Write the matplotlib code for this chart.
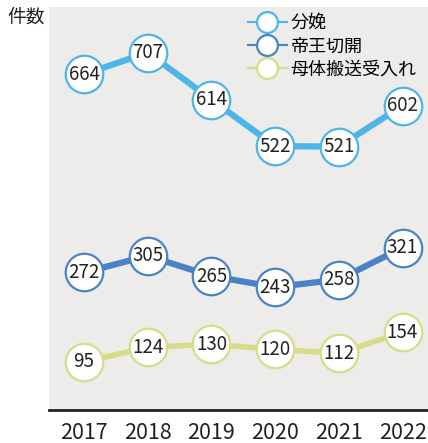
import matplotlib.pyplot as plt

plt.rcParams['font.family'] = ['Noto Sans CJK JP', 'DejaVu Sans']

years = [2017, 2018, 2019, 2020, 2021, 2022]
bunben = [664, 707, 614, 522, 521, 602]
teiou = [272, 305, 265, 243, 258, 321]
botai = [95, 124, 130, 120, 112, 154]

labels = ["分娩", "帝王切開", "母体搬送受入れ"]
colors = ["#4db5e8", "#4a82c6", "#d5dd88"]

fig = plt.figure(figsize=(4.28, 4.43), dpi=100)
ax = fig.add_axes([0.1145, 0.0745, 0.8855, 0.9095])
ax.set_facecolor("#edeceb")

handles = []
for vals, c, lab, lw in zip([bunben, teiou, botai], colors, labels, [4.5, 4.5, 4.0]):
    ax.plot(years, vals, color=c, lw=lw, zorder=2)
    ax.scatter(years, vals, s=27**2, facecolor="white", edgecolor=c, linewidth=1.6, zorder=3)
    for x, v in zip(years, vals):
        ax.text(x, v, str(v), ha="center", va="center", fontsize=13.5, color="#222222", zorder=4)
    h, = ax.plot([], [], color=c, lw=1.5, marker="o", markersize=15,
                 markerfacecolor="white", markeredgecolor=c, markeredgewidth=1.6)
    handles.append(h)

ax.legend(handles, labels, loc="upper left", bbox_to_anchor=(0.525, 0.983), frameon=False,
          fontsize=13, handlelength=2.15, handletextpad=0.2, labelspacing=0.3,
          borderaxespad=0.0, borderpad=0.0)

ax.set_xlim(2016.45, 2022.4)
ax.set_ylim(0, 797)
ax.set_yticks([])
ax.set_xticks(years)
ax.set_xticklabels([str(y) for y in years], fontsize=15.5, color="#222222")
ax.tick_params(axis="x", length=0, pad=8.5)
for s in ["top", "right", "left"]:
    ax.spines[s].set_visible(False)
ax.spines["bottom"].set_linewidth(2)
ax.spines["bottom"].set_color("#222222")

fig.text(0.017, 0.985, "件数", fontsize=13.5, ha="left", va="top", color="#222222")

fig.savefig("out.png", dpi=100)
